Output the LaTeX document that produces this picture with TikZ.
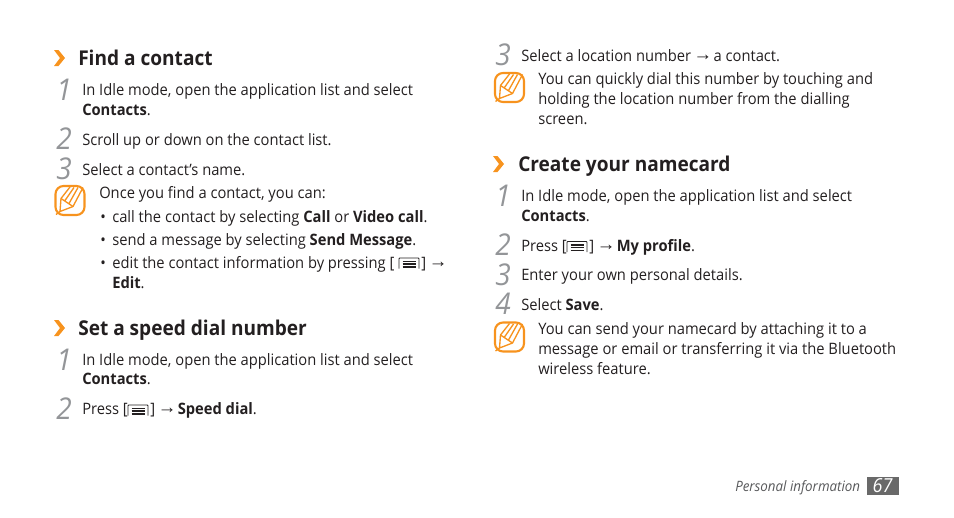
\documentclass[tikz,border=0pt]{standalone}
\usepackage{fontspec}
\setmainfont[FakeStretch=0.935]{Open Sans}
\newfontfamily\arrowfont{Liberation Sans}
\definecolor{samorange}{HTML}{F7931E}
\definecolor{numgray}{HTML}{939598}
\definecolor{footgray}{HTML}{58595B}
\definecolor{textblack}{HTML}{231F20}
\definecolor{tabgray}{HTML}{696969}
\newcommand{\toarrow}{\raisebox{0.4pt}{\arrowfont\fontsize{14}{14}\selectfont →}}
\tikzset{
  bodytext/.style={anchor=base west, inner sep=0pt, text=textblack, font=\fontsize{11.8}{14}\selectfont},
  headtext/.style={anchor=base west, inner sep=0pt, text=textblack, font=\fontsize{15.3}{18}\selectfont\bfseries},
  numtext/.style={anchor=base west, inner sep=0pt, text=numgray, font=\fontsize{22.5}{27}\selectfont\itshape},
  chevron/.pic={
    \fill[samorange] (-6,-8) -- (-1.5,-8) -- (5,0) -- (-1.5,8) -- (-6,8) -- (0,0) -- cycle;
  },
  menuicon/.pic={
    \draw[textblack, line width=0.7pt, rounded corners=0.6pt] (-10,5.5) -- (-10,-5) -- (10,-5) -- (10,5.5);
    \draw[textblack, line width=0.8pt] (-6.5,-1.5) -- (6.5,-1.5);
    \draw[textblack, line width=0.8pt] (-6.5,1) -- (6.5,1);
    \draw[textblack, line width=1.2pt] (-6.5,4) -- (6.5,4);
  },
  noteicon/.pic={
    \draw[samorange, line width=1.6pt, rounded corners=6pt] (-14.5,-14.5) rectangle (14.5,14.5);
    \draw[samorange, line width=1pt, line join=round] (0,-13.5) -- (-9,-2) -- (-10,11) -- (3,6) -- (13,-13);
    \draw[samorange, line width=1pt] (-5,0) -- (4,-13) (-1,3) -- (8,-13) (-9,-2) -- (3,6) (-14,14) -- (-10,11);
  }
}
\begin{document}
\begin{tikzpicture}[x=0.75pt, y=-0.75pt]
  \useasboundingbox (0,0) rectangle (954,518);

  % left column
  \pic at (60,58) {chevron};
  \node[headtext] (findhead) at (78,65) {Find a contact};
  \node[numtext] (findone) at (56,100) {1};
  \node[bodytext] (findonea) at (82,95) {In Idle mode, open the application list and select};
  \node[bodytext] (findoneb) at (82,115) {\textbf{Contacts}.};
  \node[numtext] (findtwo) at (56,149) {2};
  \node[bodytext] (findtwoa) at (82,145) {Scroll up or down on the contact list.};
  \node[numtext] (findthree) at (56,179) {3};
  \node[bodytext] (findthreea) at (82,175) {Select a contact’s name.};
  \pic at (70,200.5) {noteicon};
  \node[bodytext] (findnote) at (99,198) {Once you find a contact, you can:};
  \node[bodytext] (bulleta) at (100,222) {•};
  \node[bodytext] (bulletatext) at (112,222) {call the contact by selecting \textbf{Call} or \textbf{Video call}.};
  \node[bodytext] (bulletb) at (100,245) {•};
  \node[bodytext] (bulletbtext) at (112,245) {send a message by selecting \textbf{Send Message}.};
  \node[bodytext] (bulletc) at (100,268) {•};
  \node[bodytext] (bulletctext) at (112,268) {edit the contact information by pressing [};
  \pic at (409,263) {menuicon};
  \node[bodytext] (bulletcend) at (421,268) {]\hspace{2pt}\toarrow};
  \node[bodytext] (bulletcedit) at (112,288) {\textbf{Edit}.};

  \pic at (60,328) {chevron};
  \node[headtext] (speedhead) at (78,335) {Set a speed dial number};
  \node[numtext] (speedone) at (56,370) {1};
  \node[bodytext] (speedonea) at (82,365) {In Idle mode, open the application list and select};
  \node[bodytext] (speedoneb) at (82,384) {\textbf{Contacts}.};
  \node[numtext] (speedtwo) at (56,419) {2};
  \node[bodytext] (speedtwoa) at (82,414) {Press [};
  \pic at (138,410) {menuicon};
  \node[bodytext] (speedtwob) at (150,414) {]\hspace{2pt}\toarrow\hspace{1pt}\textbf{Speed dial}.};

  % right column
  \node[numtext] (locnum) at (495,65) {3};
  \node[bodytext] (loctext) at (521,61) {Select a location number\hspace{2pt}\toarrow\hspace{1pt}a contact.};
  \pic at (509.5,87.5) {noteicon};
  \node[bodytext] (locnotea) at (538,84) {You can quickly dial this number by touching and};
  \node[bodytext] (locnoteb) at (538,104) {holding the location number from the dialling};
  \node[bodytext] (locnotec) at (538,124) {screen.};

  \pic at (499,164) {chevron};
  \node[headtext] (cardhead) at (518,171) {Create your namecard};
  \node[numtext] (cardone) at (495,206) {1};
  \node[bodytext] (cardonea) at (521,201) {In Idle mode, open the application list and select};
  \node[bodytext] (cardoneb) at (521,221) {\textbf{Contacts}.};
  \node[numtext] (cardtwo) at (495,255) {2};
  \node[bodytext] (cardtwoa) at (521,251) {Press [};
  \pic at (577,246.5) {menuicon};
  \node[bodytext] (cardtwob) at (589,251) {]\hspace{2pt}\toarrow\hspace{1pt}\textbf{My profile}.};
  \node[numtext] (cardthree) at (495,285) {3};
  \node[bodytext] (cardthreea) at (521,280) {Enter your own personal details.};
  \node[numtext] (cardfour) at (495,314) {4};
  \node[bodytext] (cardfoura) at (521,310) {Select \textbf{Save}.};
  \pic at (509.5,337) {noteicon};
  \node[bodytext] (cardnotea) at (538,334) {You can send your namecard by attaching it to a};
  \node[bodytext] (cardnoteb) at (538,354) {message or email or transferring it via the Bluetooth};
  \node[bodytext] (cardnotec) at (538,374) {wireless feature.};

  % footer
  \node[bodytext, text=footgray, font=\fontsize{10.7}{12}\selectfont\itshape] (footer) at (735,491) {Personal information};
  \fill[tabgray] (867,477) rectangle (899,494.5);
  \node[anchor=base, inner sep=0pt, text=white, font=\fontsize{14.5}{16}\selectfont\itshape] (pagenum) at (882.5,492.5) {67};
\end{tikzpicture}
\end{document}
